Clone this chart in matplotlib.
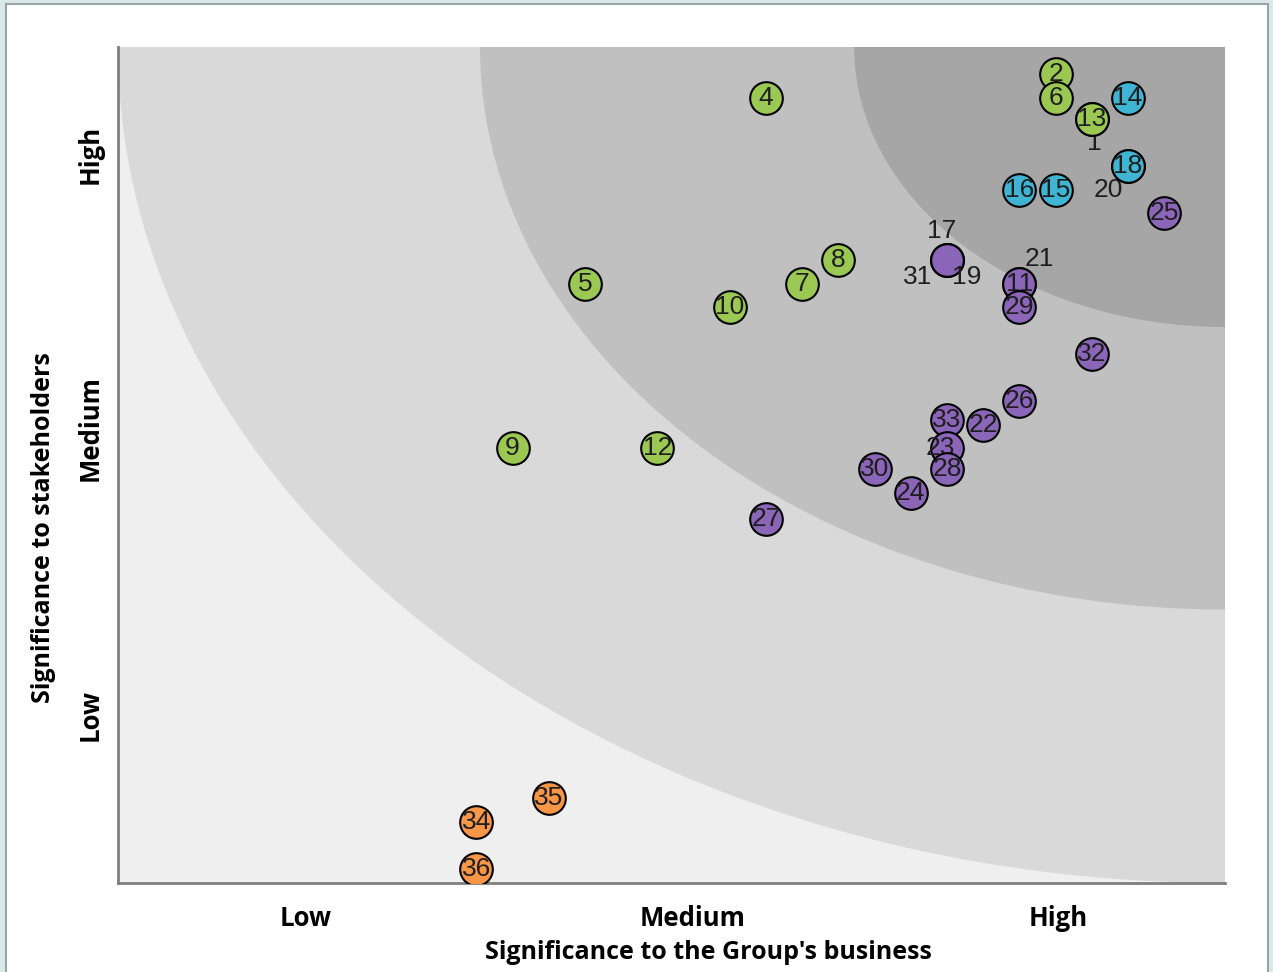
import matplotlib
matplotlib.use("Agg")
import matplotlib.pyplot as plt
from matplotlib.patches import Ellipse, Rectangle

# ---------------- data ----------------
ids = [2, 6, 1, 13, 14, 20, 18, 16, 15, 25, 4, 8, 7, 5, 10, 9, 12,
       17, 31, 19, 21, 11, 29, 32, 26, 33, 22, 23, 28, 30, 24, 27, 35, 34, 36]
x_vals = [25.9, 25.9, 26.9, 26.9, 27.9, 27.9, 27.9, 24.9, 25.9, 28.9, 17.9, 19.9, 18.9, 12.9, 16.9, 10.9, 14.9,
          22.9, 22.9, 22.9, 24.9, 24.9, 24.9, 26.9, 24.9, 22.9, 23.9, 22.9, 22.9, 20.9, 21.9, 17.9, 11.9, 9.9, 9.9]
y_vals = [34.4, 33.4, 32.5, 32.5, 33.4, 30.5, 30.5, 29.5, 29.5, 28.5, 33.4, 26.5, 25.5, 25.5, 24.5, 18.5, 18.5,
          26.5, 26.5, 26.5, 25.5, 25.5, 24.5, 22.5, 20.5, 19.7, 19.5, 18.5, 17.6, 17.6, 16.6, 15.5, 3.6, 2.6, 0.6]
groups = ["env", "env", "env", "env", "soc", "soc", "soc", "soc", "soc", "gov", "env", "env", "env", "env", "env", "env", "env",
          "gov", "gov", "gov", "gov", "gov", "gov", "gov", "gov", "gov", "gov", "gov", "gov", "gov", "gov", "gov", "oth", "oth", "oth"]

x_ticklabels = ["Low", "Medium", "High"]
y_ticklabels = ["Low", "Medium", "High"]
x_ticks = [5.17, 15.88, 25.97]
y_ticks = [7.15, 19.36, 30.98]
band_fracs = [1.0, 0.673, 0.335]

# ---------------- style ----------------
colors = {"env": "#9bc853", "soc": "#3fb4d3", "gov": "#8b65b8", "oth": "#f79646"}
band_colors = ["#d9d9d9", "#c0c0c0", "#a6a6a6"]
# label offsets (points) for overlapping labels
label_offsets = {1: (2, -17), 20: (-14, -17), 17: (-4, 21), 31: (-21, -12), 19: (14, -12),
                 21: (14, 18), 23: (-5, 0)}
XMAX, YMAX = 30.58, 35.57

fig = plt.figure(figsize=(12.73, 9.72), dpi=100)
fig.patch.set_facecolor("#dae8ea")
bg = Rectangle((6 / 1273, -0.01), (1268 - 6) / 1273, (972 - 4) / 972 + 0.01,
               transform=fig.transFigure, facecolor="white",
               edgecolor="#9aa5a8", linewidth=1.5, zorder=-10)
fig.add_artist(bg)

ax = fig.add_axes([118 / 1273, (972 - 883) / 972, (1225 - 118) / 1273, (883 - 47) / 972])
ax.set_zorder(5)
ax.set_xlim(0, XMAX)
ax.set_ylim(0, YMAX)
ax.set_facecolor("#efefef")

for frac, col in zip(band_fracs, band_colors):
    ax.add_patch(Ellipse((XMAX, YMAX), 2 * frac * XMAX, 2 * frac * YMAX,
                         facecolor=col, edgecolor="none", zorder=0))

for i, (pid, x, y, g) in enumerate(zip(ids, x_vals, y_vals, groups)):
    z = 3 + i * 0.01
    ax.plot(x, y, "o", ms=23.5, mfc=colors[g], mec="black", mew=1.5, zorder=z)
    dx, dy = label_offsets.get(pid, (0, 0))
    ax.annotate(str(pid), (x, y), xytext=(dx, dy), textcoords="offset points",
                ha="center", va="center", fontsize=19, color="#1e1e1e",
                family="Liberation Sans", zorder=z + 0.005)

for s in ["top", "right"]:
    ax.spines[s].set_visible(False)
for s in ["left", "bottom"]:
    ax.spines[s].set_color("#7f7f7f")
    ax.spines[s].set_linewidth(2)

ax.set_xticks(x_ticks)
ax.set_xticklabels(x_ticklabels, fontsize=18.5, fontweight="bold", family="Open Sans")
ax.set_yticks(y_ticks)
ax.set_yticklabels(y_ticklabels, fontsize=18.5, fontweight="bold", family="Open Sans",
                   rotation=90, va="center")
ax.tick_params(axis="x", length=0, pad=16)
ax.tick_params(axis="y", length=0, pad=10)

ax.set_xlabel("Significance to the Group's business", fontsize=18, fontweight="bold",
              family="Open Sans")
ax.set_ylabel("Significance to stakeholders", fontsize=18, fontweight="bold",
              family="Open Sans")
ax.xaxis.set_label_coords((708 - 118) / 1107, -(952 - 883) / 836, transform=ax.transAxes)
ax.yaxis.set_label_coords(-(118 - 44) / 1107, (883 - 528) / 836, transform=ax.transAxes)
ax.xaxis.label.set_va("center")
ax.yaxis.label.set_va("center")

fig.savefig("out.png", dpi=100, facecolor=fig.get_facecolor())
